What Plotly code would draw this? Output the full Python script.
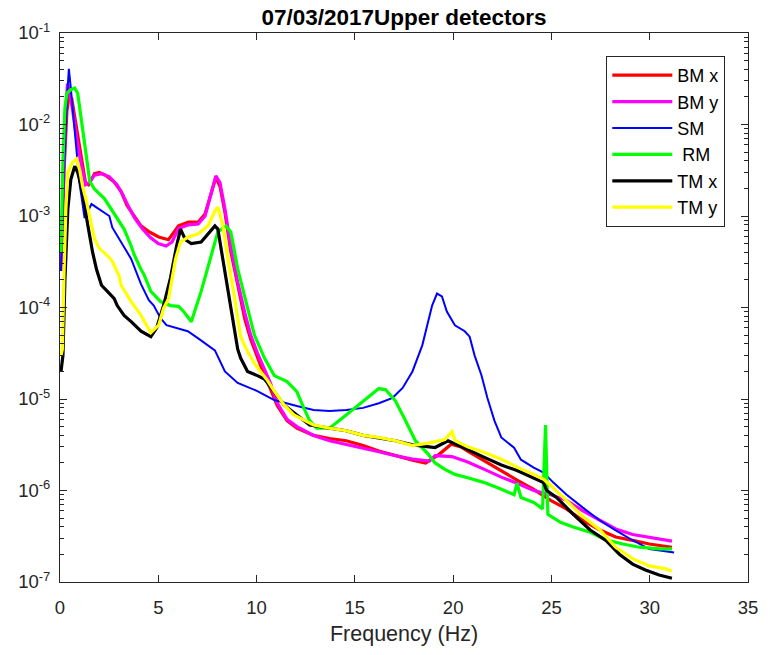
import plotly.graph_objects as go

# ---------------- data ----------------
bmx_f = [0.05, 0.2, 0.35, 0.45, 0.6, 0.75, 0.95, 1.1, 1.3, 1.45, 1.76, 2.0, 2.3, 2.76, 3.11, 3.41, 3.77, 4.12, 4.5,
         5.02, 5.52, 6.03, 6.53, 7.03, 7.38, 7.63, 7.93, 8.14, 8.39, 8.69, 9.04, 9.4, 9.7, 10.04, 10.4, 10.7, 11.05,
         11.55, 12.05, 12.9, 13.71, 14.56, 15.42, 16.22, 17.08, 17.93, 18.6, 19.3, 19.9, 20.4, 20.74, 21.59, 22.45,
         23.25, 24.1, 24.96, 25.76, 26.6, 27.47, 28.27, 29.13, 29.98, 31.13]
bmx_v = [3.0e-4, 3.0e-3, 1.4e-2, 2.0e-2, 1.9e-2, 1.22e-2, 6.5e-3, 4.0e-3, 2.3e-3, 2.2e-3, 2.9e-3, 3.0e-3, 2.8e-3,
         2.35e-3, 1.85e-3, 1.3e-3, 1.0e-3, 7.8e-4, 6.8e-4, 5.9e-4, 5.5e-4, 7.8e-4, 8.6e-4, 8.6e-4, 1.05e-3, 1.65e-3,
         2.65e-3, 2.1e-3, 1.1e-3, 4.1e-4, 1.7e-4, 7.5e-5, 4.5e-5, 2.8e-5, 1.8e-5, 1.3e-5, 8.5e-6, 5.8e-6, 4.8e-6,
         4.0e-6, 3.7e-6, 3.5e-6, 3.1e-6, 2.7e-6, 2.4e-6, 2.15e-6, 2.0e-6, 2.5e-6, 3.2e-6, 3.0e-6, 2.7e-6, 2.1e-6,
         1.65e-6, 1.3e-6, 1.03e-6, 7.8e-7, 6.3e-7, 4.7e-7, 3.7e-7, 3.1e-7, 2.85e-7, 2.6e-7, 2.4e-7]

bmy_f = [0.05, 0.15, 0.28, 0.38, 0.5, 0.65, 0.85, 1.1, 1.3, 1.45, 1.76, 2.1, 2.5, 2.9, 3.2, 3.5, 3.8, 4.2, 4.6, 5.0,
         5.4, 5.7, 6.03, 6.53, 7.03, 7.38, 7.63, 7.93, 8.14, 8.39, 8.69, 9.04, 9.4, 9.7, 10.04, 10.4, 10.7, 11.05,
         11.55, 12.05, 12.9, 13.71, 14.56, 15.42, 16.22, 17.08, 17.93, 18.79, 19.08, 19.94, 20.74, 21.59, 22.45,
         23.25, 24.1, 24.96, 25.76, 26.6, 27.47, 28.27, 29.13, 29.98, 31.13]
bmy_v = [2.5e-4, 1.5e-3, 1.2e-2, 2.8e-2, 2.2e-2, 1.4e-2, 7.0e-3, 3.5e-3, 2.2e-3, 2.3e-3, 2.8e-3, 2.9e-3, 2.7e-3,
         2.2e-3, 1.7e-3, 1.25e-3, 9.5e-4, 7.2e-4, 5.8e-4, 5.0e-4, 4.7e-4, 5.2e-4, 7.3e-4, 8.0e-4, 8.2e-4, 1.0e-3,
         1.6e-3, 2.75e-3, 2.3e-3, 1.2e-3, 4.6e-4, 1.9e-4, 8.8e-5, 5.0e-5, 3.2e-5, 2.1e-5, 1.5e-5, 9.0e-6, 6.0e-6,
         5.0e-6, 4.0e-6, 3.5e-6, 3.2e-6, 2.9e-6, 2.65e-6, 2.4e-6, 2.2e-6, 2.1e-6, 2.4e-6, 2.35e-6, 2.05e-6, 1.7e-6,
         1.4e-6, 1.2e-6, 1.0e-6, 9.0e-7, 7.8e-7, 6.0e-7, 4.7e-7, 3.8e-7, 3.3e-7, 3.1e-7, 2.8e-7]

sm_f = [0.05, 0.2, 0.35, 0.45, 0.55, 0.65, 0.85, 1.0, 1.1, 1.25, 1.6, 2.26, 2.51, 2.66, 3.11, 3.62, 4.12, 4.52, 4.77,
        5.12, 5.42, 6.03, 6.5, 7.03, 7.88, 8.39, 9.04, 10.04, 10.9, 12.05, 12.9, 13.71, 14.56, 15.42, 16.22, 16.92,
        17.43, 17.93, 18.43, 18.93, 19.18, 19.43, 19.68, 20.09, 20.59, 20.84, 21.09, 21.44, 21.74, 22.1, 22.45, 23.1,
        23.45, 24.1, 24.6, 25.1, 25.76, 26.6, 27.47, 28.27, 29.13, 29.98, 30.78, 31.24]
sm_v = [2.5e-4, 3.0e-3, 1.8e-2, 4.06e-2, 2.5e-2, 1.46e-2, 4.5e-3, 2.2e-3, 1.6e-3, 9.5e-4, 1.35e-3, 1.1e-3, 1.0e-3,
        7.5e-4, 5.2e-4, 3.4e-4, 1.8e-4, 1.2e-4, 1.05e-4, 7.6e-5, 6.4e-5, 5.9e-5, 5.5e-5, 4.6e-5, 3.4e-5, 2.0e-5,
        1.5e-5, 1.22e-5, 9.75e-6, 8.4e-6, 7.6e-6, 7.4e-6, 7.6e-6, 8.0e-6, 9.0e-6, 1.03e-5, 1.32e-5, 2.0e-5, 3.86e-5,
        1.05e-4, 1.42e-4, 1.32e-4, 9.05e-5, 6.4e-5, 5.5e-5, 4.8e-5, 3.0e-5, 1.82e-5, 1.03e-5, 5.8e-6, 3.8e-6,
        2.93e-6, 2.17e-6, 1.78e-6, 1.57e-6, 1.22e-6, 9.05e-7, 6.5e-7, 4.7e-7, 3.67e-7, 2.86e-7, 2.29e-7, 2.17e-7,
        2.1e-7]

rm_f = [0.05, 0.15, 0.25, 0.35, 0.55, 0.75, 0.9, 1.15, 1.36, 1.51, 1.76, 2.26, 2.61, 2.91, 3.26, 3.62, 3.77, 4.12,
        4.27, 4.62, 5.12, 5.62, 6.03, 6.3, 6.68, 7.18, 7.63, 8.03, 8.44, 8.69, 9.04, 9.54, 9.89, 10.4, 10.9, 11.55,
        12.05, 12.4, 12.7, 13.06, 13.71, 14.56, 15.42, 16.22, 16.57, 17.07, 17.58, 18.08, 18.73, 19.08, 19.58,
        20.09, 20.74, 21.59, 22.45, 23.1, 23.25, 23.45, 24.1, 24.55, 24.7, 24.82, 25.46, 26.11, 26.97, 27.77, 28.63,
        29.48, 30.48, 31.13]
rm_v = [4.0e-4, 4.0e-3, 1.5e-2, 2.2e-2, 2.4e-2, 2.5e-2, 2.2e-2, 9.5e-3, 4.2e-3, 2.4e-3, 1.96e-3, 1.55e-3, 1.2e-3,
        9.3e-4, 7.2e-4, 4.7e-4, 3.8e-4, 2.6e-4, 2.3e-4, 1.5e-4, 1.16e-4, 1.05e-4, 1.03e-4, 9.0e-5, 7.0e-5, 1.5e-4,
        3.4e-4, 6.7e-4, 7.8e-4, 6.7e-4, 2.65e-4, 9.8e-5, 5.0e-5, 2.8e-5, 1.8e-5, 1.55e-5, 1.2e-5, 8.0e-6, 5.8e-6,
        4.8e-6, 4.8e-6, 6.7e-6, 9.5e-6, 1.3e-5, 1.26e-5, 9.5e-6, 5.8e-6, 3.5e-6, 2.5e-6, 2.0e-6, 1.7e-6, 1.5e-6,
        1.38e-6, 1.22e-6, 1.03e-6, 9.0e-7, 1.2e-6, 8.4e-7, 7.4e-7, 6.3e-7, 5.2e-6, 5.5e-7, 4.5e-7, 4.0e-7, 3.5e-7,
        2.9e-7, 2.6e-7, 2.4e-7, 2.3e-7, 2.3e-7]

tmx_f = [0.05, 0.15, 0.25, 0.4, 0.55, 0.75, 0.9, 1.15, 1.41, 1.66, 1.86, 2.11, 2.41, 2.76, 2.91, 3.26, 3.62, 4.12,
         4.62, 4.92, 5.27, 5.62, 5.93, 6.13, 6.38, 6.68, 7.18, 7.63, 7.88, 8.03, 8.19, 8.54, 8.89, 9.04, 9.19, 9.54,
         10.04, 10.4, 10.9, 11.4, 12.05, 12.7, 13.71, 14.56, 15.42, 16.42, 17.07, 17.93, 18.73, 19.08, 19.74, 20.24,
         20.74, 21.59, 22.45, 23.25, 24.1, 24.6, 24.76, 25.26, 26.11, 26.97, 27.77, 28.47, 29.13, 29.78, 30.48, 31.13]
tmx_v = [2.0e-5, 3.0e-5, 2.0e-4, 1.2e-3, 2.5e-3, 3.5e-3, 3.0e-3, 1.8e-3, 8.0e-4, 4.0e-4, 2.6e-4, 1.75e-4, 1.5e-4,
         1.25e-4, 1.05e-4, 8.2e-5, 7.0e-5, 5.5e-5, 4.8e-5, 6.0e-5, 1.05e-4, 2.1e-4, 4.7e-4, 7.2e-4, 5.5e-4, 5.0e-4,
         5.2e-4, 6.7e-4, 7.8e-4, 7.2e-4, 4.4e-4, 1.5e-4, 5.0e-5, 3.5e-5, 2.8e-5, 2.0e-5, 1.8e-5, 1.65e-5, 1.2e-5,
         8.6e-6, 6.7e-6, 5.2e-6, 4.8e-6, 4.5e-6, 4.0e-6, 3.7e-6, 3.5e-6, 3.15e-6, 3.05e-6, 2.95e-6, 3.5e-6, 3.15e-6,
         2.8e-6, 2.3e-6, 1.9e-6, 1.65e-6, 1.38e-6, 1.22e-6, 1.0e-6, 8.4e-7, 5.5e-7, 3.7e-7, 2.85e-7, 2.0e-7, 1.57e-7,
         1.35e-7, 1.19e-7, 1.1e-7]

tmy_f = [0.05, 0.12, 0.2, 0.3, 0.4, 0.65, 0.85, 1.0, 1.15, 1.36, 1.61, 1.76, 2.01, 2.41, 2.66, 3.01, 3.11, 3.62, 4.12,
         4.62, 5.02, 5.27, 5.52, 5.62, 5.88, 6.13, 6.53, 7.03, 7.53, 7.88, 8.03, 8.29, 8.54, 8.89, 9.19, 9.54, 9.89,
         10.2, 10.55, 10.9, 11.4, 11.9, 12.4, 12.9, 13.71, 14.56, 15.42, 16.22, 17.07, 17.93, 18.73, 19.58, 19.94,
         20.1, 20.74, 21.59, 22.45, 23.25, 24.1, 24.6, 24.96, 25.76, 26.6, 27.47, 28.27, 29.13, 29.98, 30.78, 31.13]
tmy_v = [3.0e-5, 3.5e-5, 2.2e-4, 1.2e-3, 3.0e-3, 3.9e-3, 4.2e-3, 3.2e-3, 2.1e-3, 1.4e-3, 7.8e-4, 5.6e-4, 4.4e-4,
         3.7e-4, 3.2e-4, 2.2e-4, 1.75e-4, 1.16e-4, 8.2e-5, 5.3e-5, 6.4e-5, 9.8e-5, 1.25e-4, 1.7e-4, 3.4e-4, 5.2e-4,
         5.9e-4, 6.4e-4, 7.8e-4, 1.13e-3, 1.25e-3, 7.8e-4, 3.4e-4, 1.25e-4, 4.8e-5, 3.3e-5, 2.45e-5, 2.0e-5, 1.6e-5,
         1.22e-5, 8.6e-6, 6.7e-6, 5.9e-6, 5.2e-6, 4.8e-6, 4.5e-6, 4.0e-6, 3.8e-6, 3.5e-6, 3.1e-6, 3.3e-6, 3.6e-6,
         4.4e-6, 3.5e-6, 3.0e-6, 2.6e-6, 2.2e-6, 1.8e-6, 1.5e-6, 1.33e-6, 1.14e-6, 7.8e-7, 5.2e-7, 3.7e-7, 2.4e-7,
         1.8e-7, 1.5e-7, 1.4e-7, 1.32e-7]

series_names = ["BM x", "BM y", "SM", " RM", "TM x", "TM y"]
series_colors = ["#ff0000", "#ff00ff", "#0000ff", "#00ff00", "#000000", "#ffff00"]
series_widths = [3.2, 3.2, 2.0, 3.2, 3.2, 3.2]
series_f = [bmx_f, bmy_f, sm_f, rm_f, tmx_f, tmy_f]
series_v = [bmx_v, bmy_v, sm_v, rm_v, tmx_v, tmy_v]

x_ticks = [0, 5, 10, 15, 20, 25, 30, 35]
y_exponents = [-7, -6, -5, -4, -3, -2, -1]

# ---------------- figure ----------------
AX = "#262626"
FONT = "Liberation Sans, Arial, Helvetica, sans-serif"

fig = go.Figure()
for name, color, width, f, v in zip(series_names, series_colors, series_widths, series_f, series_v):
    fig.add_trace(go.Scatter(x=f, y=v, mode="lines", name=name,
                             line=dict(color=color, width=width)))

y_tickvals = [10.0 ** e for e in y_exponents]
y_ticktext = ["10<sup>%d</sup>" % e for e in y_exponents]
y_minor = [m * 10.0 ** e for e in y_exponents[:-1] for m in range(2, 10)]

fig.update_layout(
    width=770, height=655,
    margin=dict(l=60, r=13, t=33, b=73),
    paper_bgcolor="white", plot_bgcolor="white",
    font=dict(family=FONT, color=AX, size=18),
    title=dict(text="<b>07/03/2017Upper detectors</b>", x=0.5, xref="paper", xanchor="center",
               y=1 - 17 / 655, yref="container", yanchor="middle",
               font=dict(family=FONT, size=22.5, color="black")),
    showlegend=True,
    legend=dict(x=(734 - 60) / 697, xanchor="right", y=(582 - 56) / 549, yanchor="top",
                bgcolor="white", bordercolor=AX, borderwidth=1,
                font=dict(family=FONT, size=18, color="black"),
                itemwidth=60, tracegroupgap=0),
    xaxis=dict(range=[0, 35], tickmode="array", tickvals=x_ticks, ticktext=[str(t) for t in x_ticks],
               ticks="inside", ticklen=7, tickcolor=AX, tickwidth=1,
               showline=True, linecolor=AX, linewidth=1, mirror="ticks",
               showgrid=False, zeroline=False, ticklabelstandoff=9,
               tickfont=dict(size=18.5, color=AX),
               title=dict(text="Frequency (Hz)", font=dict(size=21.5, color=AX), standoff=8)),
    yaxis=dict(type="log", range=[-7, -1], tickmode="array", tickvals=y_tickvals, ticktext=y_ticktext,
               ticks="inside", ticklen=7, tickcolor=AX, tickwidth=1,
               showline=True, linecolor=AX, linewidth=1, mirror="ticks",
               showgrid=False, zeroline=False, ticklabelstandoff=5,
               tickfont=dict(size=18.5, color=AX),
               minor=dict(tickvals=y_minor, ticks="inside", ticklen=4, tickcolor=AX, showgrid=False)),
)

fig.write_html("out.html")
